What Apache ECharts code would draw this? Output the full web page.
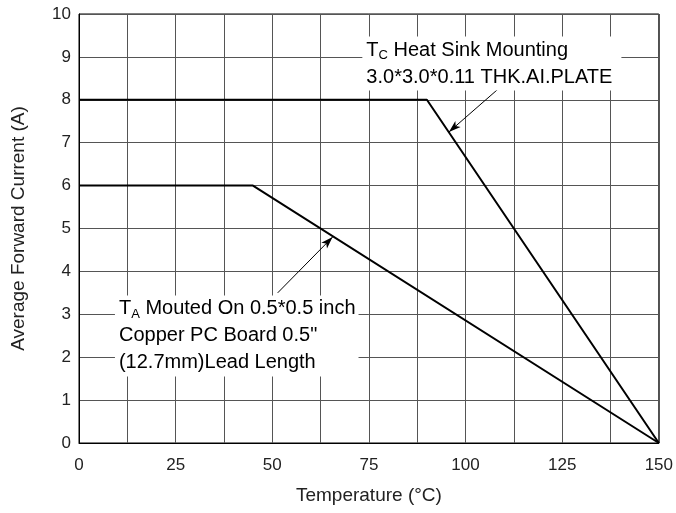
<!DOCTYPE html>
<html><head><meta charset="utf-8">
<script src="https://cdn.jsdelivr.net/npm/echarts@6/dist/echarts.min.js"></script>
<style>html,body{margin:0;padding:0;background:#fff}#c{width:676px;height:513px}</style>
</head><body><div id="c"></div>
<script>
// Data
const tcX = [0, 90, 150];
const tcY = [8, 8, 0];
const taX = [0, 45, 150];
const taY = [6, 6, 0];
const xTickLabels = [0, 25, 50, 75, 100, 125, 150];
const yTickLabels = [0,1,2,3,4,5,6,7,8,9,10];
// annotation arrows [start, end] in data units
const tcArrow = [[110.2, 8.39], [95.7, 7.25]];
const taArrow = [[51.4, 3.50], [65.6, 4.80]];
const tcLabelAt = [73.3, 9.475];
const taLabelAt = [9.3, 3.44];

const FONT = 'Liberation Sans, Arial, sans-serif';
const chart = echarts.init(document.getElementById('c'));
function pts(xs, ys){ return xs.map((x,i)=>[x, ys[i]]); }
function arrowLine(a){
  return {
    silent: true, symbol: ['none','arrow'], symbolSize: [6, 12],
    lineStyle: {color:'#000', width: 1, type:'solid'}, label:{show:false},
    itemStyle: {color: '#000'},
    data: [[{coord: a[0]}, {coord: a[1]}]]
  };
}
chart.setOption({
  animation: false,
  backgroundColor: '#fff',
  grid: {left: 79, right: 16, top: 14, bottom: 70, show: true, borderColor: '#000', borderWidth: 1},
  xAxis: {
    type: 'value', min: 0, max: 150, interval: 12.5,
    name: 'Temperature (°C)', nameLocation: 'middle', nameGap: 43,
    nameTextStyle: {fontFamily: FONT, fontSize: 19, color: '#222'},
    axisLine: {lineStyle: {color: '#000', width: 1}},
    axisTick: {show: false},
    axisLabel: {fontFamily: FONT, fontSize: 17, color: '#222', margin: 14,
      formatter: v => xTickLabels.indexOf(v) >= 0 ? String(v) : ''},
    splitLine: {show: true, lineStyle: {color: '#555', width: 1}}
  },
  yAxis: {
    type: 'value', min: 0, max: 10, interval: 1,
    name: 'Average Forward Current (A)', nameLocation: 'middle', nameGap: 51,
    nameTextStyle: {fontFamily: FONT, fontSize: 19, color: '#222'},
    axisLine: {show: true, lineStyle: {color: '#000', width: 1}},
    axisTick: {show: false},
    axisLabel: {fontFamily: FONT, fontSize: 17, color: '#222', margin: 8,
      formatter: v => yTickLabels.indexOf(v) >= 0 ? String(v) : ''},
    splitLine: {show: true, lineStyle: {color: '#555', width: 1}}
  },
  series: [
    {type: 'line', data: pts(tcX, tcY), symbol: 'none', z: 100,
     lineStyle: {color: '#000', width: 2}, markLine: arrowLine(tcArrow)},
    {type: 'line', data: pts(taX, taY), symbol: 'none', z: 100,
     lineStyle: {color: '#000', width: 2}, markLine: arrowLine(taArrow)}
  ]
});

const p1 = chart.convertToPixel({gridIndex: 0}, tcLabelAt);
const p2 = chart.convertToPixel({gridIndex: 0}, taLabelAt);
const rich = {
  n: {fontFamily: FONT, fontSize: 20, color: '#222', lineHeight: 27},
  s: {fontFamily: FONT, fontSize: 13, color: '#222', lineHeight: 27, padding: [10, 0, 0, 0]}
};
chart.setOption({
  graphic: [
    {type: 'text', x: p1[0], y: p1[1], z: 50,
     style: {text: '{n|T}{s|C}{n| Heat Sink Mounting}\n{n|3.0*3.0*0.11 THK.AI.PLATE}', rich: rich,
       backgroundColor: '#fff', padding: [0, 9, 0, 4], verticalAlign: 'top', align: 'left'}},
    {type: 'text', x: p2[0], y: p2[1], z: 50,
     style: {text: '{n|T}{s|A}{n| Mouted On 0.5*0.5 inch}\n{n|Copper PC Board 0.5"}\n{n|(12.7mm)Lead Length}', rich: rich,
       backgroundColor: '#fff', padding: [0, 3, 0, 4], verticalAlign: 'top', align: 'left'}}
  ]
});
</script></body></html>
